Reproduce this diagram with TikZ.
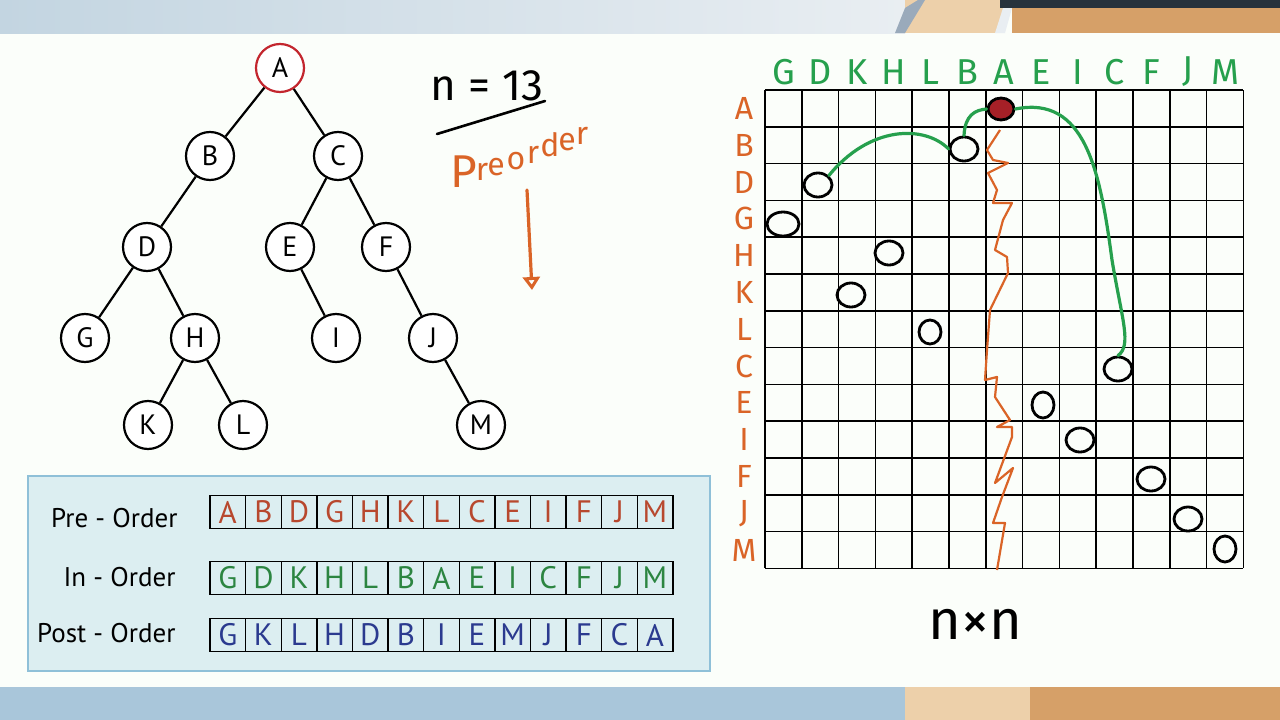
\documentclass[tikz,border=0pt]{standalone}
\usepackage{fontspec}
\setmainfont{PT Sans}
\newfontfamily\handfont{Fira Sans}
\usetikzlibrary{positioning,arrows.meta,shapes.geometric}

\definecolor{paper}{HTML}{FBFEFA}
\definecolor{topleft}{HTML}{C3D5E1}
\definecolor{topright}{HTML}{E9EEF2}
\definecolor{lowband}{HTML}{A9C6DA}
\definecolor{woodlight}{HTML}{EDD0AA}
\definecolor{wooddark}{HTML}{D6A068}
\definecolor{bookblue}{HTML}{27323C}
\definecolor{bladegray}{HTML}{9AAABB}
\definecolor{rootred}{HTML}{C3262E}
\definecolor{boxfill}{HTML}{DCEEF1}
\definecolor{boxline}{HTML}{8FC0D8}
\definecolor{preclr}{HTML}{B8482E}
\definecolor{inclr}{HTML}{2C8541}
\definecolor{postclr}{HTML}{2B3A8F}
\definecolor{penorange}{HTML}{DA6427}
\definecolor{pengreen}{HTML}{26A04D}

\begin{document}
\begin{tikzpicture}[
    x=1pt, y=-1pt,
    treenode/.style={
        draw,
        circle,
        line width=2.2pt,
        fill=white,
        minimum size=48pt,
        inner sep=0pt,
        font=\fontsize{28}{28}\selectfont
    },
    cell/.style={
        draw,
        rectangle,
        line width=1.4pt,
        minimum width=35.6pt,
        minimum height=33pt,
        inner sep=0pt,
        font=\fontsize{31}{31}\selectfont
    },
    orderlabel/.style={
        anchor=east,
        font=\fontsize{27}{27}\selectfont
    },
    ringmark/.style={
        draw,
        ellipse,
        line width=2.8pt,
        minimum width=28pt,
        minimum height=24pt,
        inner sep=0pt
    },
    collabel/.style={
        text=pengreen,
        font=\handfont\fontsize{36}{36}\selectfont
    },
    rowlabel/.style={
        text=penorange,
        font=\handfont\fontsize{32}{32}\selectfont
    },
    noteletter/.style={
        text=penorange,
        anchor=base,
        inner sep=0pt,
        font=\handfont\fontsize{32}{32}\selectfont
    },
    edge/.style={line width=2.2pt},
    greenpath/.style={pengreen, line width=3.2pt, line cap=round}
]

    % Sfondo e bande
    \fill[paper] (0,0) rectangle (1280,720);
    \fill[left color=topleft, right color=topright] (0,0) rectangle (905,33);
    \fill[woodlight] (905,0) rectangle (1005,33);
    \fill[bladegray] (895,33) -- (905,8) -- (918,0) -- (925,0) -- (905,33) -- cycle;
    \fill[topright] (995,33) -- (1003,8) -- (1012,8) -- (1005,33) -- cycle;
    \fill[wooddark] (1012,8) rectangle (1280,33);
    \fill[bookblue] (1000,0) rectangle (1280,8);
    \fill[lowband] (0,687) rectangle (905,720);
    \fill[woodlight] (905,687) rectangle (1030,720);
    \fill[wooddark] (1030,687) rectangle (1280,720);

    % Albero
    \node[treenode, draw=rootred] (A) at (280,68) {A};
    \node[treenode] (B) at (210,156) {B};
    \node[treenode] (C) at (338,156) {C};
    \node[treenode] (D) at (147,247) {D};
    \node[treenode] (E) at (290,247) {E};
    \node[treenode] (F) at (386,247) {F};
    \node[treenode] (G) at (85,338) {G};
    \node[treenode] (H) at (195,338) {H};
    \node[treenode] (I) at (336,338) {I};
    \node[treenode] (J) at (433,338) {J};
    \node[treenode] (K) at (148,425) {K};
    \node[treenode] (L) at (243,425) {L};
    \node[treenode] (M) at (481,425) {M};

    \draw[edge] (A) -- (B);
    \draw[edge] (A) -- (C);
    \draw[edge] (B) -- (D);
    \draw[edge] (C) -- (E);
    \draw[edge] (C) -- (F);
    \draw[edge] (D) -- (G);
    \draw[edge] (D) -- (H);
    \draw[edge] (E) -- (I);
    \draw[edge] (F) -- (J);
    \draw[edge] (H) -- (K);
    \draw[edge] (H) -- (L);
    \draw[edge] (J) -- (M);

    % Riquadro delle visite
    \node[draw=boxline, fill=boxfill, line width=2pt, minimum width=682pt, minimum height=195pt, anchor=north west] (orderbox) at (27,475) {};

    \node[orderlabel] (prelabel) at (181,518) {Pre - Order};
    \node[orderlabel] (inlabel) at (179,577) {In - Order};
    \node[orderlabel] (postlabel) at (179,633) {Post - Order};

    \foreach \ch [count=\i] in {A,B,D,G,H,K,L,C,E,I,F,J,M}
        \node[cell, text=preclr] (pre\i) at ({210+35.6*(\i-0.5)},512) {\ch};
    \foreach \ch [count=\i] in {G,D,K,H,L,B,A,E,I,C,F,J,M}
        \node[cell, text=inclr] (in\i) at ({210+35.6*(\i-0.5)},578) {\ch};
    \foreach \ch [count=\i] in {G,K,L,H,D,B,I,E,M,J,F,C,A}
        \node[cell, text=postclr] (post\i) at ({210+35.6*(\i-0.5)},635) {\ch};

    % Appunti a mano
    \node[font=\handfont\fontsize{44}{44}\selectfont] (ncount) at (487,86) {n = 13};
    \coordinate (ulstart) at (437,134);
    \coordinate (ulend) at (545,101);
    \draw[line width=2.6pt, line cap=round] (ulstart) -- (ulend);
    \node[noteletter, font=\handfont\fontsize{46}{46}\selectfont] (note1) at (464,187) {P};
    \foreach \ch/\px/\py [count=\i from 2] in {r/482/180, e/496/175, o/516/169, r/533/163, d/550/156, e/567/150, r/582/144}
        \node[noteletter] (note\i) at (\px,\py) {\ch};
    \coordinate (arrtop) at (527,190);
    \coordinate (arrbot) at (532,290);
    \draw[penorange, line width=3.2pt, line cap=round, -{Triangle[open, length=13pt, width=17pt, line width=3pt]}] (arrtop) -- (arrbot);

    % Griglia n x n
    \foreach \k in {0,...,13} {
        \draw[line width=1.7pt] ({765+36.8*\k},90) -- ({765+36.8*\k},568.4);
        \draw[line width=1.7pt] (765,{90+36.8*\k}) -- (1243.4,{90+36.8*\k});
    }

    \foreach \ch [count=\i] in {G,D,K,H,L,B,A,E,I,C,F,J,M}
        \node[collabel] (col\ch) at ({765+36.8*(\i-0.5)},72) {\ch};
    \foreach \ch [count=\i] in {A,B,D,G,H,K,L,C,E,I,F,J,M}
        \node[rowlabel] (row\ch) at (744,{90+36.8*(\i-0.5)}) {\ch};

    % Cerchi sulla diagonale
    \node[ringmark, fill=rootred!85!black, minimum width=26pt, minimum height=22pt] (gA) at (1001,109) {};
    \node[ringmark] (gB) at (964,149) {};
    \node[ringmark] (gD) at (818,185) {};
    \node[ringmark, minimum width=32pt] (gG) at (783,224) {};
    \node[ringmark] (gH) at (889,253) {};
    \node[ringmark] (gK) at (851,295) {};
    \node[ringmark, minimum width=22pt] (gL) at (930,332) {};
    \node[ringmark] (gC) at (1118,369) {};
    \node[ringmark, minimum width=22pt, minimum height=26pt] (gE) at (1043,405) {};
    \node[ringmark] (gI) at (1080,440) {};
    \node[ringmark] (gF) at (1151,479) {};
    \node[ringmark] (gJ) at (1188,519) {};
    \node[ringmark, minimum width=22pt, minimum height=26pt] (gM) at (1225,549) {};

    % Percorso verde
    \draw[greenpath] (gD.north east) .. controls (870,125) and (925,125) .. (gB.west);
    \draw[greenpath] (gB.north) .. controls (965,115) and (975,110) .. (gA.west);
    \draw[greenpath] (gA.east) .. controls (1085,95) and (1100,170) .. (1112,260)
        .. controls (1122,320) and (1132,345) .. (gC.north);

    % Zig-zag arancione
    \draw[penorange, line width=2.2pt, line join=round]
        (1000,130) -- (987,150) -- (993,160) -- (1008,163) -- (988,173) -- (997,190)
        -- (993,203) -- (1012,203) -- (1003,220) -- (995,250) -- (1007,257)
        -- (1008,273) -- (990,310) -- (987,350) -- (985,380) -- (997,377)
        -- (995,397) -- (1010,420) -- (997,427) -- (1012,427) -- (1012,437)
        -- (995,483) -- (1013,468) -- (1002,497) -- (993,523) -- (1005,523)
        -- (997,570);

    \node[font=\handfont\fontsize{56}{56}\selectfont] (nxn) at (975,624) {n×n};

\end{tikzpicture}
\end{document}
